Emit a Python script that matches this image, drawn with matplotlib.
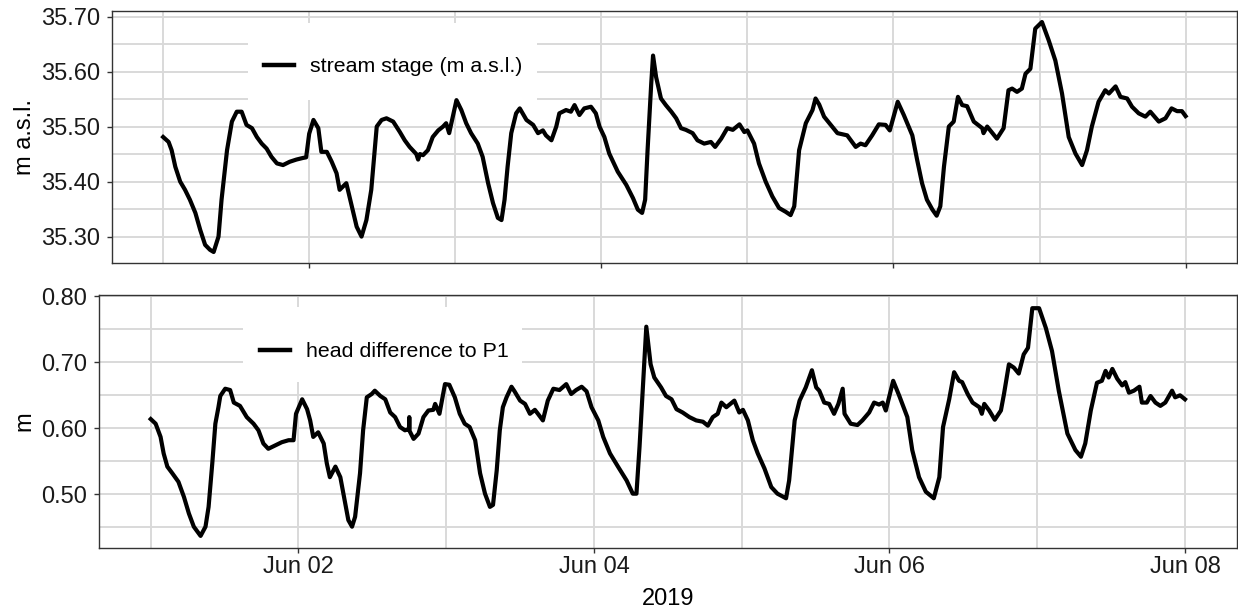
import numpy as np
import pandas as pd
import matplotlib
matplotlib.use("Agg")
import matplotlib.pyplot as plt
import matplotlib.dates as mdates
from matplotlib.patches import Rectangle
from matplotlib.lines import Line2D
from matplotlib import transforms

plt.rcParams['font.family'] = ['Liberation Sans', 'DejaVu Sans']

# ---- data: hours since 2019-06-01 00:00 and measured values ----
start = pd.Timestamp("2019-06-01 00:00")

stage_hours = [0.0, 0.9, 1.4, 2.0, 2.8, 3.6, 4.4, 5.3, 6.1, 6.9, 7.7, 8.3, 9.1, 9.6, 10.5, 11.3,
               12.1, 12.9, 13.7, 14.6, 15.4, 16.2, 17.0, 17.8, 18.7, 19.7, 20.8, 21.9, 23.0, 23.5,
               24.0, 24.7, 25.5, 26.0, 26.9, 27.7, 28.5, 29.0, 30.1, 31.0, 31.8, 32.6, 33.4, 34.2,
               35.1, 35.9, 36.7, 37.8, 38.9, 39.7, 40.5, 41.6, 41.9, 42.2, 42.7, 43.5, 44.3, 45.2,
               46.0, 46.5, 47.0, 48.2, 49.0, 49.8, 50.6, 51.7, 52.5, 53.4, 54.2, 55.0, 55.6, 56.1,
               56.6, 57.2, 58.0, 58.6, 59.7, 60.8, 61.6, 62.4, 62.9, 63.8, 64.6, 65.1, 66.2, 67.0,
               67.6, 68.4, 69.2, 70.3, 71.1, 71.7, 72.5, 73.3, 74.7, 76.1, 77.2, 78.0, 78.7, 79.2,
               79.6, 80.2, 80.5, 81.0, 81.8, 82.6, 83.5, 84.3, 85.1, 85.9, 87.0, 87.8, 88.9, 90.0,
               90.7, 91.7, 92.7, 93.6, 94.7, 95.5, 96.0, 97.1, 97.9, 99.0, 100.1, 101.2, 102.3,
               103.1, 103.7, 104.5, 105.6, 106.7, 107.2, 107.8, 108.6, 109.7, 110.8, 112.4, 113.8,
               114.6, 115.4, 116.5, 117.6, 118.7, 119.4, 120.7, 121.7, 123.1, 123.9, 124.7, 125.5,
               126.4, 127.1, 127.7, 128.3, 129.1, 129.9, 130.6, 131.3, 132.1, 133.2, 134.6, 134.8,
               135.4, 137.0, 138.1, 138.9, 139.5, 140.3, 141.1, 141.7, 142.5, 143.3, 144.4, 145.5,
               146.6, 147.7, 148.8, 149.9, 151.0, 151.8, 152.6, 153.7, 154.8, 155.4, 156.5, 157.3,
               158.4, 159.2, 160.3, 161.4, 162.2, 163.6, 164.7, 165.7, 166.6, 167.4, 168.0]

stage_m_asl = [35.481, 35.472, 35.457, 35.427, 35.400, 35.385, 35.367, 35.343, 35.312, 35.285,
               35.276, 35.272, 35.300, 35.367, 35.457, 35.509, 35.527, 35.527, 35.503, 35.497,
               35.481, 35.469, 35.460, 35.445, 35.433, 35.430, 35.436, 35.440, 35.443, 35.444,
               35.487, 35.512, 35.497, 35.454, 35.454, 35.436, 35.415, 35.385, 35.397, 35.355,
               35.318, 35.300, 35.330, 35.385, 35.500, 35.512, 35.515, 35.509, 35.490, 35.475,
               35.463, 35.450, 35.440, 35.450, 35.448, 35.457, 35.481, 35.493, 35.500, 35.506,
               35.488, 35.548, 35.530, 35.506, 35.488, 35.469, 35.445, 35.397, 35.361, 35.334,
               35.330, 35.367, 35.427, 35.488, 35.524, 35.533, 35.512, 35.503, 35.488, 35.493,
               35.484, 35.475, 35.500, 35.524, 35.530, 35.527, 35.539, 35.521, 35.533, 35.536,
               35.524, 35.500, 35.481, 35.451, 35.418, 35.394, 35.370, 35.349, 35.343, 35.367,
               35.457, 35.578, 35.629, 35.590, 35.551, 35.539, 35.527, 35.515, 35.497, 35.494,
               35.488, 35.475, 35.469, 35.472, 35.463, 35.478, 35.497, 35.494, 35.504, 35.490,
               35.493, 35.469, 35.433, 35.400, 35.373, 35.352, 35.345, 35.339, 35.355, 35.457,
               35.506, 35.530, 35.551, 35.540, 35.518, 35.503, 35.488, 35.484, 35.463, 35.469,
               35.466, 35.484, 35.504, 35.503, 35.493, 35.545, 35.521, 35.484, 35.439, 35.397,
               35.367, 35.349, 35.338, 35.355, 35.427, 35.500, 35.509, 35.554, 35.539, 35.537,
               35.509, 35.497, 35.488, 35.500, 35.478, 35.497, 35.566, 35.569, 35.563, 35.569,
               35.596, 35.605, 35.678, 35.690, 35.657, 35.620, 35.560, 35.481, 35.451, 35.430,
               35.457, 35.500, 35.545, 35.566, 35.560, 35.573, 35.554, 35.551, 35.536, 35.524,
               35.518, 35.527, 35.509, 35.515, 35.533, 35.528, 35.528, 35.519]

head_hours = [0.0, 0.8, 1.6, 2.1, 2.7, 3.5, 4.5, 5.4, 6.2, 7.0, 8.1, 8.9, 9.4, 10.0, 10.5, 11.0,
              11.3, 12.1, 12.9, 13.5, 14.5, 15.6, 16.7, 17.5, 18.3, 19.1, 20.2, 21.3, 22.4, 23.2,
              23.6, 24.6, 25.4, 25.9, 26.4, 27.2, 28.1, 28.6, 29.1, 30.0, 30.8, 31.6, 32.1, 32.7,
              33.2, 34.0, 34.5, 35.1, 35.9, 36.4, 37.3, 38.1, 38.9, 39.7, 40.5, 41.3, 41.95, 42.0,
              42.05, 42.7, 43.5, 44.3, 45.1, 45.9, 46.2, 46.9, 47.8, 48.5, 49.4, 50.2, 51.0, 51.8,
              52.7, 53.5, 54.3, 55.1, 55.6, 56.2, 56.7, 57.2, 57.8, 58.6, 59.1, 60.0, 60.8, 61.6,
              62.4, 62.9, 63.7, 64.5, 65.4, 66.4, 67.5, 68.3, 69.1, 70.0, 70.8, 71.6, 72.7, 73.5,
              74.6, 75.9, 77.3, 78.3, 78.9, 79.4, 80.0, 80.5, 81.2, 81.8, 82.9, 83.7, 84.6, 85.4,
              86.4, 87.5, 88.6, 89.7, 90.5, 91.3, 92.1, 92.7, 93.5, 94.8, 95.6, 96.2, 97.0, 97.8,
              98.6, 99.7, 100.8, 101.8, 103.2, 103.7, 104.6, 105.4, 106.4, 107.4, 108.1, 108.6,
              109.4, 110.2, 111.0, 111.7, 112.4, 112.7, 113.7, 114.8, 115.6, 116.7, 117.5, 118.3,
              118.9, 119.4, 120.6, 121.6, 122.9, 123.7, 124.8, 125.9, 127.2, 128.1, 128.7, 129.7,
              130.5, 131.3, 131.8, 132.7, 133.5, 134.6, 135.0, 135.4, 136.2, 137.1, 138.1, 138.6,
              139.4, 140.2, 141.0, 141.8, 142.5, 143.2, 144.3, 145.4, 146.4, 147.5, 148.9, 150.2,
              151.1, 151.8, 152.7, 153.7, 154.5, 155.1, 155.6, 156.2, 157.0, 157.8, 158.3, 158.9,
              159.7, 160.6, 161.0, 161.8, 162.4, 163.2, 164.0, 164.8, 165.9, 166.4, 167.2, 168.0]

head_diff_m = [0.614, 0.607, 0.587, 0.562, 0.542, 0.532, 0.519, 0.496, 0.471, 0.451, 0.437, 0.451,
               0.481, 0.547, 0.607, 0.632, 0.649, 0.660, 0.658, 0.639, 0.634, 0.617, 0.607, 0.597,
               0.577, 0.569, 0.574, 0.579, 0.582, 0.582, 0.622, 0.644, 0.629, 0.612, 0.587, 0.594,
               0.577, 0.547, 0.526, 0.542, 0.526, 0.486, 0.461, 0.451, 0.466, 0.532, 0.597, 0.647,
               0.652, 0.657, 0.649, 0.644, 0.624, 0.617, 0.602, 0.597, 0.599, 0.617, 0.596, 0.584,
               0.592, 0.617, 0.627, 0.628, 0.637, 0.622, 0.667, 0.666, 0.647, 0.622, 0.607, 0.602,
               0.582, 0.532, 0.501, 0.481, 0.484, 0.536, 0.597, 0.632, 0.647, 0.663, 0.656, 0.642,
               0.637, 0.622, 0.628, 0.622, 0.612, 0.642, 0.660, 0.658, 0.667, 0.652, 0.658, 0.663,
               0.656, 0.632, 0.612, 0.587, 0.562, 0.542, 0.521, 0.501, 0.501, 0.572, 0.672, 0.754,
               0.697, 0.677, 0.662, 0.649, 0.644, 0.629, 0.624, 0.617, 0.612, 0.610, 0.604, 0.617,
               0.622, 0.639, 0.632, 0.642, 0.624, 0.628, 0.612, 0.582, 0.562, 0.539, 0.511, 0.501,
               0.494, 0.521, 0.612, 0.642, 0.662, 0.688, 0.662, 0.657, 0.639, 0.637, 0.622, 0.637,
               0.660, 0.622, 0.607, 0.605, 0.612, 0.624, 0.639, 0.636, 0.639, 0.627, 0.672, 0.649,
               0.617, 0.567, 0.526, 0.504, 0.494, 0.526, 0.602, 0.644, 0.685, 0.672, 0.670, 0.652,
               0.639, 0.632, 0.622, 0.637, 0.627, 0.613, 0.627, 0.652, 0.697, 0.692, 0.683, 0.712,
               0.722, 0.782, 0.782, 0.752, 0.717, 0.657, 0.592, 0.567, 0.557, 0.577, 0.627, 0.669,
               0.672, 0.687, 0.677, 0.690, 0.675, 0.665, 0.670, 0.654, 0.657, 0.663, 0.639, 0.639,
               0.649, 0.639, 0.634, 0.639, 0.657, 0.647, 0.650, 0.644]

stage_label = "stream stage (m a.s.l.)"
head_label = "head difference to P1"
x_title = "2019"

stage_time = start + pd.to_timedelta(stage_hours, unit="h")
head_time = start + pd.to_timedelta(head_hours, unit="h")

# ---- styling ----
GRID = "#d9d9d9"
FRAME = "#333333"
TICK_FS = 17
LEG_FS = 15.4

fig = plt.figure(figsize=(12.38, 6.12), dpi=100)
ax1 = fig.add_axes([0.09047, 0.57026, 0.90848, 0.41176])
ax2 = fig.add_axes([0.07997, 0.10458, 0.91898, 0.41340])

xlim = (start - pd.Timedelta(hours=8.4), start + pd.Timedelta(days=7, hours=8.4))


def style(ax, ymajor, yminor, ylim):
    ax.set_xlim(mdates.date2num(xlim[0]), mdates.date2num(xlim[1]))
    ax.set_ylim(*ylim)
    ax.xaxis.set_major_locator(mdates.DayLocator(bymonthday=[2, 4, 6, 8]))
    ax.xaxis.set_minor_locator(mdates.DayLocator(bymonthday=[1, 3, 5, 7]))
    ax.xaxis.set_major_formatter(mdates.DateFormatter("%b %d"))
    ax.set_yticks(ymajor)
    ax.set_yticks(yminor, minor=True)
    ax.set_yticklabels([f"{v:.2f}" for v in ymajor])
    ax.set_axisbelow(True)
    ax.grid(True, which="both", color=GRID, linewidth=1.4)
    for sp in ax.spines.values():
        sp.set_color(FRAME)
        sp.set_linewidth(1.0)
    ax.tick_params(which="major", direction="out", length=3.6, width=1.0, color=FRAME,
                   labelsize=TICK_FS, labelcolor="#1a1a1a")
    ax.tick_params(which="minor", length=0)
    ax.tick_params(axis="y", pad=5)
    ax.tick_params(axis="x", pad=2.5)


style(ax1, [35.30, 35.40, 35.50, 35.60, 35.70], [35.35, 35.45, 35.55, 35.65], (35.252, 35.710))
style(ax2, [0.50, 0.60, 0.70, 0.80], [0.45, 0.55, 0.65, 0.75], (0.4187, 0.8020))
ax1.tick_params(axis="x", labelbottom=False)

ax1.plot(stage_time, stage_m_asl, color="black", linewidth=3.0, solid_joinstyle="round", zorder=3)
ax2.plot(head_time, head_diff_m, color="black", linewidth=3.0, solid_joinstyle="round", zorder=3)

# legend keys on a white backing panel
for ax, box, anchor, label in [
    (ax1, (0.1209, 0.647, 0.2570, 0.305), (0.1351, 0.7778), stage_label),
    (ax2, (0.1266, 0.656, 0.2452, 0.2966), (0.1415, 0.7747), head_label),
]:
    ax.add_patch(Rectangle(box[:2], box[2], box[3], transform=ax.transAxes,
                           facecolor="white", edgecolor="none", zorder=1))
    handle = Line2D([], [], color="black", linewidth=3.2)
    ax.legend([handle], [label], loc="center left", bbox_to_anchor=anchor, frameon=False,
              borderpad=0, borderaxespad=0, handlelength=1.40, handletextpad=0.75,
              prop={"size": LEG_FS})

# axis titles
for ax, txt in [(ax1, "m a.s.l."), (ax2, "m")]:
    ax.set_ylabel(txt, fontsize=TICK_FS, color="black")
    ax.yaxis.set_label_coords(0.0290, 0.5,
                              transform=transforms.blended_transform_factory(fig.transFigure, ax.transAxes))
ax2.set_xlabel(x_title, fontsize=TICK_FS, color="black", labelpad=7)

fig.savefig("out.png", dpi=100)
